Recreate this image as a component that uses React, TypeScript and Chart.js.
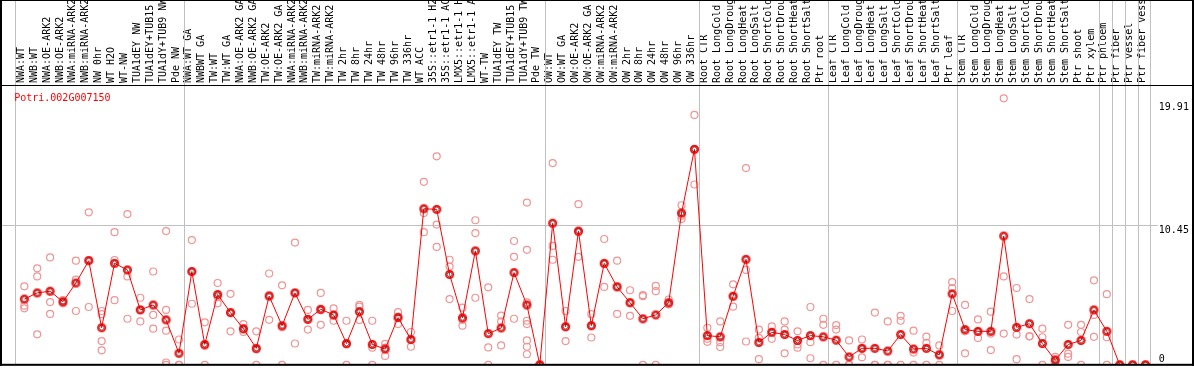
import React, { useEffect, useRef } from 'react';
import { Chart, registerables } from 'chart.js';

Chart.register(...registerables);

const geneId = 'Potri.002G007150';

const categories = [
  'NWA:WT', 'NWB:WT', 'NWA:OE-ARK2', 'NWB:OE-ARK2', 'NWA:miRNA-ARK2', 'NWB:miRNA-ARK2', 'NW 0hr', 'WT H2O', 'WT-NW', 'TUA1dEY NW',
  'TUA1dEY+TUB15 NW', 'TUA1dY+TUB9 NW', 'Pde NW', 'NWA:WT GA', 'NWBWT GA', 'TW:WT', 'TW:WT GA', 'NWA:OE-ARK2 GA', 'NWB:OE-ARK2 GA', 'TW:OE-ARK2',
  'TW:OE-ARK2 GA', 'NWA:miRNA-ARK2', 'NWB:miRNA-ARK2', 'TW:miRNA-ARK2', 'TW:miRNA-ARK2', 'TW 2hr', 'TW 8hr', 'TW 24hr', 'TW 48hr', 'TW 96hr',
  'TW 336hr', 'WT ACC', '35S::etr1-1 H2O', '35S::etr1-1 ACC', 'LMX5::etr1-1 H2O', 'LMX5::etr1-1 ACC', 'WT-TW', 'TUA1dEY TW', 'TUA1dEY+TUB15 TW', 'TUA1dY+TUB9 TW',
  'Pde TW', 'OW:WT', 'OW:WT GA', 'OW:OE-ARK2', 'OW:OE-ARK2 GA', 'OW:miRNA-ARK2', 'OW:miRNA-ARK2', 'OW 2hr', 'OW 8hr', 'OW 24hr',
  'OW 48hr', 'OW 96hr', 'OW 336hr', 'Root CTR', 'Root LongCold', 'Root LongDrought', 'Root LongHeat', 'Root LongSalt', 'Root ShortCold', 'Root ShortDrought',
  'Root ShortHeat', 'Root ShortSalt', 'Ptr root', 'Leaf CTR', 'Leaf LongCold', 'Leaf LongDrought', 'Leaf LongHeat', 'Leaf LongSalt', 'Leaf ShortCold', 'Leaf ShortDrought',
  'Leaf ShortHeat', 'Leaf ShortSalt', 'Ptr leaf', 'Stem CTR', 'Stem LongCold', 'Stem LongDrought', 'Stem LongHeat', 'Stem LongSalt', 'Stem ShortCold', 'Stem ShortDrought',
  'Stem ShortHeat', 'Stem ShortSalt', 'Ptr shoot', 'Ptr xylem', 'Ptr phloem', 'Ptr fiber', 'Ptr vessel', 'Ptr fiber vessel',
];

const meanValues = [
  4.91, 5.37, 5.50, 4.71, 6.11, 7.78, 2.77, 7.58, 7.09, 4.10,
  4.47, 3.36, 0.86, 6.97, 1.52, 5.25, 3.90, 2.70, 1.23, 5.13,
  2.92, 5.37, 3.39, 4.15, 3.73, 1.59, 3.97, 1.52, 1.18, 3.53,
  1.89, 11.66, 11.61, 6.75, 3.51, 8.51, 2.33, 2.75, 6.89, 4.47,
  0, 10.58, 2.85, 9.99, 2.92, 7.58, 5.82, 4.64, 3.44, 3.73,
  4.64, 11.34, 16.10, 2.18, 2.09, 5.13, 7.88, 1.67, 2.43, 2.26,
  1.82, 2.18, 2.09, 1.84, 0.59, 1.23, 1.23, 1.03, 2.26, 1.18,
  1.23, 0.74, 5.30, 2.63, 2.50, 2.50, 9.62, 2.80, 3.07, 1.59,
  0.34, 1.52, 1.82, 4.10, 2.50, 0, 0, 0,
];

const replicateValues = [
  [5.86, 4.42, 4.22], [7.21, 6.60, 2.28], [8.02, 4.69, 3.80], [4.83, 4.71, 4.59], [7.78, 6.36, 4.02],
  [11.39, 7.83, 4.32], [4.02, 3.78, 1.77, 1.08], [9.91, 7.83, 4.83], [11.26, 6.60, 3.44], [5.01, 4.10, 3.24],
  [6.97, 3.73, 2.70], [9.99, 4.10, 2.55, 0, 0.17], [1.89, 0, 0], [9.32, 6.97, 4.56], [3.17, 1.40, 0],
  [6.11, 5.08, 4.59], [5.30, 3.90, 2.50], [3.04, 2.63, 2.45], [2.50, 1.15, 0], [6.82, 5.20, 3.36],
  [5.94, 2.80, 0], [9.13, 5.37, 1.59], [4.10, 3.44, 2.63], [5.37, 4.07, 2.99], [4.22, 3.68, 3.29],
  [3.29, 1.52, 0], [4.47, 4.34, 3.34], [3.29, 1.28, 0], [1.57, 1.28, 0.66], [3.93, 3.61, 3.04],
  [2.45, 1.86, 1.35], [13.67, 11.34, 9.91], [15.58, 10.48, 8.81], [7.85, 7.34, 4.91], [4.27, 3.36, 2.92],
  [10.80, 9.84, 5.01], [5.79, 1.30, 0], [3.68, 3.24, 1.45], [9.25, 8.07, 3.44], [12.12, 8.59, 4.66, 3.29, 3.04, 1.82, 1.35, 0.79],
  [0, 0, 0], [15.07, 8.88, 7.85], [4.02, 2.80, 1.77], [12.00, 9.91, 8.07], [3.78, 2.92, 2.04],
  [9.40, 7.53, 5.82], [7.78, 5.86, 3.80], [5.57, 4.66, 3.66], [5.20, 5.13, 0], [5.89, 5.50, 0],
  [4.88, 4.54, 4.52], [11.92, 11.14, 10.89], [18.67, 16.12, 13.47], [2.77, 1.94, 1.72], [3.24, 1.69, 1.33],
  [6.01, 5.08, 4.34], [14.70, 7.09, 1.74], [2.63, 2.01, 0.42], [2.87, 2.45, 1.94], [3.24, 2.63, 0.86],
  [2.50, 1.52, 1.28], [4.32, 1.69, 0.49], [3.44, 2.99, 0], [2.97, 2.63, 0], [1.82, 0, 0],
  [1.89, 1.23, 0.56], [3.90, 0, 0], [3.24, 0, 0], [3.66, 3.29, 0], [2.55, 0.91, 0],
  [2.11, 1.64, 0], [1.45, 0.79, 0], [6.18, 5.74, 4.02], [4.47, 2.50, 0.86], [3.39, 2.45, 2.01],
  [3.97, 2.33, 1.10], [19.91, 6.60, 2.33], [5.74, 2.26, 0.42], [4.91, 2.13, 2.13], [2.70, 2.06, 0],
  [0.59, 0.42, 0], [2.99, 0.83, 0.59], [2.99, 2.45, 0], [6.31, 3.73, 2.09], [5.28, 2.06, 0],
  [0, 0, 0], [0, 0, 0], [0, 0, 0],
];

// y tick labels shown on the right (max, middle, zero)
const yTickLabels = ['19.91', '10.45', '0'];
const yTickValues = [19.91, 10.45, 0];
const yAxisMax = 20.9055;

// last category index of each group (a separator is drawn after each)
const groupLastIndex = [12, 40, 52, 62, 72, 83, 84, 85, 86, 87];

// x range in category-index units
const xMin = -1.4846;
const xMax = 90.362;

const FONT = 'DejaVu Sans Mono';

export default function App() {
  const ref = useRef<HTMLCanvasElement>(null);

  useEffect(() => {
    const canvas = ref.current;
    if (!canvas) return;

    const marker = document.createElement('canvas');
    marker.width = 11;
    marker.height = 11;
    const mc = marker.getContext('2d')!;
    mc.strokeStyle = '#ff0000';
    mc.lineWidth = 1.7;
    mc.beginPath();
    mc.arc(5.5, 5.5, 3.7, 0, Math.PI * 2);
    mc.stroke();
    mc.strokeStyle = 'rgba(70,0,0,0.9)';
    mc.lineWidth = 0.8;
    mc.beginPath();
    mc.arc(5.5, 5.5, 2.4, 0, Math.PI * 2);
    mc.stroke();

    const meanPoints = meanValues.map((v, i) => ({ x: i, y: v }));
    const replicatePoints = replicateValues.flatMap((reps, i) => reps.map((v) => ({ x: i, y: v })));

    const framePlugin = {
      id: 'frame',
      beforeDatasetsDraw(chart: any) {
        const { ctx, chartArea } = chart;
        const xs = chart.scales.x;
        const ys = chart.scales.y;
        ctx.save();
        ctx.fillStyle = '#c0c0c0';
        const seps = [-0.7, ...groupLastIndex.map((j) => j + 0.385)];
        seps.forEach((v) => {
          const px = Math.round(xs.getPixelForValue(v));
          ctx.fillRect(px, 0, 1, chartArea.bottom);
        });
        const py = Math.round(ys.getPixelForValue(yTickValues[1]));
        ctx.fillRect(0, py, chartArea.right - 31, 1);
        ctx.restore();
      },
      afterDatasetsDraw(chart: any) {
        const { ctx, chartArea } = chart;
        const ys = chart.scales.y;
        ctx.save();
        ctx.fillStyle = '#000';
        ctx.fillRect(0, 0, chart.width, 1);
        ctx.fillRect(0, chartArea.top, chart.width, 1);
        ctx.fillRect(0, chartArea.bottom - 1, chart.width, 2);
        ctx.fillRect(0, 0, 2, chartArea.bottom + 1);
        ctx.fillRect(chart.width - 2, 0, 2, chartArea.bottom + 1);

        ctx.font = `10px "${FONT}"`;
        ctx.textBaseline = 'alphabetic';
        ctx.textAlign = 'left';
        ctx.fillStyle = '#ff0000';
        ctx.fillText(geneId, chartArea.left + 9, chartArea.top + 16);

        ctx.fillStyle = '#000';
        const offsets = [12, 8.5, -3];
        yTickValues.forEach((v, k) => {
          const py = ys.getPixelForValue(v);
          ctx.fillText(yTickLabels[k], chartArea.right - 30, py + offsets[k]);
        });
        ctx.restore();
      },
    };

    const chart = new Chart(canvas, {
      type: 'line',
      data: {
        datasets: [
          {
            type: 'line',
            label: 'mean',
            data: meanPoints,
            borderColor: '#ff0000',
            borderWidth: 1,
            tension: 0,
            pointStyle: marker as any,
            pointRadius: 4,
            pointHoverRadius: 4,
          },
          {
            type: 'scatter',
            label: 'replicates',
            data: replicatePoints,
            showLine: false,
            borderColor: '#f09494',
            backgroundColor: 'rgba(0,0,0,0)',
            borderWidth: 1.2,
            pointStyle: 'circle',
            pointRadius: 3.5,
          },
        ],
      },
      options: {
        animation: false,
        responsive: false,
        events: [],
        layout: { padding: { left: 0, right: 0, top: 0, bottom: 1 } },
        plugins: { legend: { display: false }, tooltip: { enabled: false }, title: { display: false } },
        scales: {
          x: {
            type: 'linear',
            position: 'top',
            min: xMin,
            max: xMax,
            offset: false,
            afterBuildTicks: (scale: any) => {
              scale.ticks = categories.map((_, i) => ({ value: i }));
            },
            afterFit: (scale: any) => {
              scale.height = 85;
              scale.paddingLeft = 0;
              scale.paddingRight = 0;
            },
            grid: { display: false, drawTicks: false },
            border: { display: false },
            ticks: {
              autoSkip: false,
              minRotation: 90,
              maxRotation: 90,
              padding: 2,
              labelOffset: 7,
              color: '#000',
              font: { family: FONT, size: 10, lineHeight: 1 },
              callback: (v: any) => categories[v as number] ?? '',
            },
          },
          y: {
            type: 'linear',
            display: false,
            min: 0,
            max: yAxisMax,
          },
        },
      },
      plugins: [framePlugin],
    });

    return () => chart.destroy();
  }, []);

  return (
    <div style={{ position: 'fixed', left: 0, top: 0, width: 1194, height: 370, background: '#fff' }}>
      <canvas ref={ref} width={1194} height={370} style={{ display: 'block' }} />
    </div>
  );
}
